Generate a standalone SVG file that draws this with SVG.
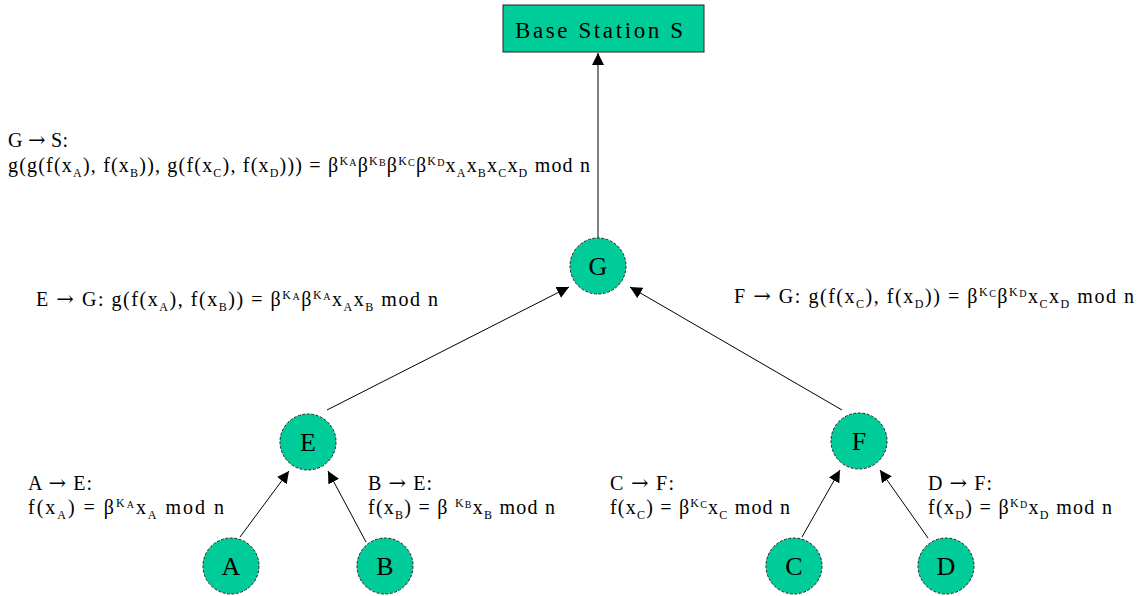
<svg xmlns="http://www.w3.org/2000/svg" width="1141" height="596" viewBox="0 0 1141 596">
<defs>
<marker id="arr" markerUnits="userSpaceOnUse" markerWidth="14" markerHeight="12" refX="12" refY="6" orient="auto">
<path d="M0,0 L12,6 L0,12 Z" fill="#000"/>
</marker>
</defs>
<rect width="1141" height="596" fill="#fff"/>
<g id="connectors" stroke="#000" stroke-width="1" fill="none">
<line x1="598" y1="238" x2="598" y2="53" marker-end="url(#arr)"/>
<line x1="327" y1="410" x2="569" y2="287" marker-end="url(#arr)"/>
<line x1="842" y1="410" x2="630" y2="287" marker-end="url(#arr)"/>
<line x1="240" y1="537" x2="289" y2="471" marker-end="url(#arr)"/>
<line x1="366" y1="542" x2="328" y2="471" marker-end="url(#arr)"/>
<line x1="802" y1="537" x2="840" y2="470" marker-end="url(#arr)"/>
<line x1="928" y1="538" x2="880" y2="470" marker-end="url(#arr)"/>
</g>
<g id="S">
<rect x="503" y="5" width="201" height="47" fill="#00CC99" stroke="#222" stroke-width="1"/>
<text x="515" y="38" font-family="'Liberation Serif', serif" font-size="23" textLength="168" lengthAdjust="spacing" fill="#000">Base Station S</text>
</g>
<g id="G"><circle cx="598" cy="266" r="28" fill="#00CC99" stroke="#222" stroke-dasharray="3 1.5"/><text font-family="'Liberation Serif', serif" font-size="26" text-anchor="middle" x="598" y="275">G</text></g>
<g id="E"><circle cx="308" cy="442" r="28" fill="#00CC99" stroke="#222" stroke-dasharray="3 1.5"/><text font-family="'Liberation Serif', serif" font-size="26" text-anchor="middle" x="308" y="451">E</text></g>
<g id="F"><circle cx="859" cy="441" r="28" fill="#00CC99" stroke="#222" stroke-dasharray="3 1.5"/><text font-family="'Liberation Serif', serif" font-size="26" text-anchor="middle" x="859" y="450">F</text></g>
<g id="A"><circle cx="231" cy="566" r="28" fill="#00CC99" stroke="#222" stroke-dasharray="3 1.5"/><text font-family="'Liberation Serif', serif" font-size="26" text-anchor="middle" x="231" y="575">A</text></g>
<g id="B"><circle cx="385" cy="566" r="28" fill="#00CC99" stroke="#222" stroke-dasharray="3 1.5"/><text font-family="'Liberation Serif', serif" font-size="26" text-anchor="middle" x="385" y="575">B</text></g>
<g id="C"><circle cx="794" cy="566" r="28" fill="#00CC99" stroke="#222" stroke-dasharray="3 1.5"/><text font-family="'Liberation Serif', serif" font-size="26" text-anchor="middle" x="794" y="575">C</text></g>
<g id="D"><circle cx="946" cy="566" r="28" fill="#00CC99" stroke="#222" stroke-dasharray="3 1.5"/><text font-family="'Liberation Serif', serif" font-size="26" text-anchor="middle" x="946" y="575">D</text></g>
<g id="labels" fill="#000">
<text font-family="'Liberation Serif', serif" font-size="20" x="8" y="147" textLength="60" lengthAdjust="spacing">G <tspan font-family="'DejaVu Serif', serif" font-size="21">→</tspan> S:</text>
<text font-family="'Liberation Serif', serif" font-size="20" x="8" y="172" textLength="582" lengthAdjust="spacing">g(g(f(x<tspan font-size="12" dy="5">A</tspan><tspan dy="-5">), f(x</tspan><tspan font-size="12" dy="5">B</tspan><tspan dy="-5">)), g(f(x</tspan><tspan font-size="12" dy="5">C</tspan><tspan dy="-5">), f(x</tspan><tspan font-size="12" dy="5">D</tspan><tspan dy="-5">))) = β</tspan><tspan font-size="12" dy="-7">K</tspan><tspan font-size="10" dy="1">A</tspan><tspan dy="6">β</tspan><tspan font-size="12" dy="-7">K</tspan><tspan font-size="10" dy="1">B</tspan><tspan dy="6">β</tspan><tspan font-size="12" dy="-7">K</tspan><tspan font-size="10" dy="1">C</tspan><tspan dy="6">β</tspan><tspan font-size="12" dy="-7">K</tspan><tspan font-size="10" dy="1">D</tspan><tspan dy="6">x</tspan><tspan font-size="12" dy="5">A</tspan><tspan dy="-5">x</tspan><tspan font-size="12" dy="5">B</tspan><tspan dy="-5">x</tspan><tspan font-size="12" dy="5">C</tspan><tspan dy="-5">x</tspan><tspan font-size="12" dy="5">D</tspan><tspan dy="-5"> mod n</tspan></text>
<text font-family="'Liberation Serif', serif" font-size="20" x="36" y="306" textLength="402" lengthAdjust="spacing">E <tspan font-family="'DejaVu Serif', serif" font-size="21">→</tspan> G: g(f(x<tspan font-size="12" dy="5">A</tspan><tspan dy="-5">), f(x</tspan><tspan font-size="12" dy="5">B</tspan><tspan dy="-5">)) = β</tspan><tspan font-size="12" dy="-7">K</tspan><tspan font-size="10" dy="1">A</tspan><tspan dy="6">β</tspan><tspan font-size="12" dy="-7">K</tspan><tspan font-size="10" dy="1">A</tspan><tspan dy="6">x</tspan><tspan font-size="12" dy="5">A</tspan><tspan dy="-5">x</tspan><tspan font-size="12" dy="5">B</tspan><tspan dy="-5"> mod n</tspan></text>
<text font-family="'Liberation Serif', serif" font-size="20" x="734" y="303" textLength="400" lengthAdjust="spacing">F <tspan font-family="'DejaVu Serif', serif" font-size="21">→</tspan> G: g(f(x<tspan font-size="12" dy="5">C</tspan><tspan dy="-5">), f(x</tspan><tspan font-size="12" dy="5">D</tspan><tspan dy="-5">)) = β</tspan><tspan font-size="12" dy="-7">K</tspan><tspan font-size="10" dy="1">C</tspan><tspan dy="6">β</tspan><tspan font-size="12" dy="-7">K</tspan><tspan font-size="10" dy="1">D</tspan><tspan dy="6">x</tspan><tspan font-size="12" dy="5">C</tspan><tspan dy="-5">x</tspan><tspan font-size="12" dy="5">D</tspan><tspan dy="-5"> mod n</tspan></text>
<text font-family="'Liberation Serif', serif" font-size="20" x="28" y="490" textLength="64" lengthAdjust="spacing">A <tspan font-family="'DejaVu Serif', serif" font-size="21">→</tspan> E:</text>
<text font-family="'Liberation Serif', serif" font-size="20" x="28" y="514" textLength="196" lengthAdjust="spacing">f(x<tspan font-size="12" dy="5">A</tspan><tspan dy="-5">) = β</tspan><tspan font-size="12" dy="-7">K</tspan><tspan font-size="10" dy="1">A</tspan><tspan dy="6">x</tspan><tspan font-size="12" dy="5">A</tspan><tspan dy="-5"> mod n</tspan></text>
<text font-family="'Liberation Serif', serif" font-size="20" x="368" y="490" textLength="64" lengthAdjust="spacing">B <tspan font-family="'DejaVu Serif', serif" font-size="21">→</tspan> E:</text>
<text font-family="'Liberation Serif', serif" font-size="20" x="368" y="514" textLength="187" lengthAdjust="spacing">f(x<tspan font-size="12" dy="5">B</tspan><tspan dy="-5">) = β </tspan><tspan font-size="12" dy="-7">K</tspan><tspan font-size="10" dy="1">B</tspan><tspan dy="6">x</tspan><tspan font-size="12" dy="5">B</tspan><tspan dy="-5"> mod n</tspan></text>
<text font-family="'Liberation Serif', serif" font-size="20" x="610" y="490" textLength="64" lengthAdjust="spacing">C <tspan font-family="'DejaVu Serif', serif" font-size="21">→</tspan> F:</text>
<text font-family="'Liberation Serif', serif" font-size="20" x="610" y="514" textLength="180" lengthAdjust="spacing">f(x<tspan font-size="12" dy="5">C</tspan><tspan dy="-5">) = β</tspan><tspan font-size="12" dy="-7">K</tspan><tspan font-size="10" dy="1">C</tspan><tspan dy="6">x</tspan><tspan font-size="12" dy="5">C</tspan><tspan dy="-5"> mod n</tspan></text>
<text font-family="'Liberation Serif', serif" font-size="20" x="928" y="490" textLength="64" lengthAdjust="spacing">D <tspan font-family="'DejaVu Serif', serif" font-size="21">→</tspan> F:</text>
<text font-family="'Liberation Serif', serif" font-size="20" x="928" y="514" textLength="184" lengthAdjust="spacing">f(x<tspan font-size="12" dy="5">D</tspan><tspan dy="-5">) = β</tspan><tspan font-size="12" dy="-7">K</tspan><tspan font-size="10" dy="1">D</tspan><tspan dy="6">x</tspan><tspan font-size="12" dy="5">D</tspan><tspan dy="-5"> mod n</tspan></text>
</g>
</svg>
